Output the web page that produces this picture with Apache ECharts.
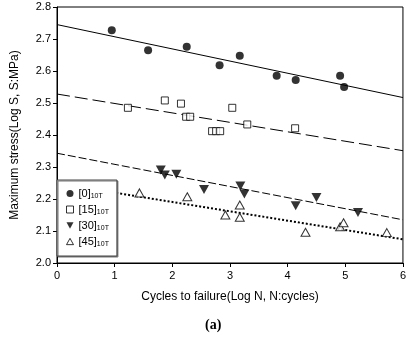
<!DOCTYPE html>
<html>
<head>
<meta charset="utf-8">
<script src="https://cdn.jsdelivr.net/npm/echarts@6/dist/echarts.min.js"></script>
<style>
  html, body { margin: 0; padding: 0; background: #fff; }
  #main { width: 409px; height: 339px; }
</style>
</head>
<body>
<div id="main"></div>
<script>
// measured points: [log N, log S]
const names = ['[0]', '[15]', '[30]', '[45]'];
const data0 = [[0.95, 2.727], [1.58, 2.665], [2.25, 2.676], [2.82, 2.618], [3.17, 2.648],
  [3.81, 2.585], [4.14, 2.572], [4.91, 2.585], [4.98, 2.55]];
const data15 = [[1.23, 2.485], [1.87, 2.508], [2.15, 2.498], [2.24, 2.457], [2.31, 2.457],
  [2.69, 2.412], [2.76, 2.412], [2.83, 2.412], [3.04, 2.485], [3.3, 2.433], [4.13, 2.421]];
const data30 = [[1.8, 2.291], [1.87, 2.275], [2.07, 2.277], [2.55, 2.23], [3.18, 2.241],
  [3.25, 2.216], [4.14, 2.179], [4.5, 2.205], [5.22, 2.158]];
const data45 = [[1.43, 2.219], [2.26, 2.207], [2.92, 2.15], [3.17, 2.181], [3.17, 2.143],
  [4.31, 2.096], [4.91, 2.113], [4.97, 2.126], [5.72, 2.095]];
// fitted lines, value at log N = 0 and log N = 6
const fitX = [0, 6];
const fit0 = [2.745, 2.517];
const fit15 = [2.528, 2.351];
const fit30 = [2.343, 2.135];
const fit45 = [2.249, 2.074];

const font = 'Liberation Sans, Arial, sans-serif';
const downTri = 'path://M0,0 L10,0 L5,9 Z';
const upTri = 'path://M5,0 L10,9 L0,9 Z';

const fitLine = (ys, type, width) => ({
  type: 'line',
  data: fitX.map((x, i) => [x, ys[i]]),
  showSymbol: false,
  symbol: 'none',
  silent: true,
  z: 1,
  lineStyle: { color: '#000', width: width, type: type }
});

const chart = echarts.init(document.getElementById('main'));
chart.setOption({
  animation: false,
  textStyle: { fontFamily: font },
  grid: { left: 57, top: 7, width: 353, height: 256, show: true, borderColor: '#000', borderWidth: 1 },
  xAxis: {
    type: 'value', min: 0, max: 6, interval: 1,
    name: 'Cycles to failure(Log N, N:cycles)',
    nameLocation: 'middle', nameGap: 28,
    nameTextStyle: { fontSize: 12, color: '#000', fontFamily: font },
    axisLine: { lineStyle: { color: '#000' } },
    axisTick: { length: 4, lineStyle: { color: '#000' } },
    axisLabel: { fontSize: 11, color: '#000', margin: 7, fontFamily: font },
    splitLine: { show: false }
  },
  yAxis: {
    type: 'value', min: 2.0, max: 2.8, interval: 0.1,
    name: 'Maximum stress(Log S, S:MPa)',
    nameLocation: 'middle', nameGap: 36,
    nameTextStyle: { fontSize: 12, color: '#000', fontFamily: font },
    axisLine: { show: true, lineStyle: { color: '#000' } },
    axisTick: { show: true, length: 4, lineStyle: { color: '#000' } },
    axisLabel: { fontSize: 11, color: '#000', margin: 6, fontFamily: font,
      formatter: v => v.toFixed(1) },
    splitLine: { show: false }
  },
  legend: {
    orient: 'vertical',
    left: 57, top: 180,
    padding: [8, 8, 8, 9],
    itemWidth: 7, itemHeight: 7, itemGap: 4,
    backgroundColor: '#fff',
    borderColor: '#444', borderWidth: 1,
    shadowColor: '#777', shadowOffsetX: 1, shadowOffsetY: 1, shadowBlur: 0,
    data: [
      { name: names[0], icon: 'circle', itemStyle: { color: '#000', borderWidth: 0 } },
      { name: names[1], icon: 'rect', itemStyle: { color: '#fff', borderColor: '#000', borderWidth: 1 } },
      { name: names[2], icon: downTri, itemStyle: { color: '#000', borderWidth: 0 } },
      { name: names[3], icon: upTri, itemStyle: { color: '#fff', borderColor: '#000', borderWidth: 1 } }
    ],
    formatter: n => '{a|' + n + '}{b|10T}',
    textStyle: {
      fontFamily: font, color: '#000',
      rich: {
        a: { fontSize: 11, fontFamily: font, color: '#000', lineHeight: 13 },
        b: { fontSize: 7, fontFamily: font, color: '#000', verticalAlign: 'bottom', lineHeight: 13, padding: [5, 0, 0, 0] }
      }
    }
  },
  series: [
    fitLine(fit0, 'solid', 1),
    fitLine(fit15, [13, 5], 1),
    fitLine(fit30, [8, 3], 1),
    fitLine(fit45, [2, 2], 2),
    { name: names[0], type: 'scatter', data: data0, symbol: 'circle', symbolSize: 8,
      itemStyle: { color: '#000' }, z: 3 },
    { name: names[1], type: 'scatter', data: data15, symbol: 'rect', symbolSize: 7,
      itemStyle: { color: '#fff', borderColor: '#000', borderWidth: 1 }, z: 3 },
    { name: names[2], type: 'scatter', data: data30, symbol: downTri, symbolSize: [10, 9],
      itemStyle: { color: '#000' }, z: 3 },
    { name: names[3], type: 'scatter', data: data45, symbol: upTri, symbolSize: [9, 8],
      itemStyle: { color: '#fff', borderColor: '#000', borderWidth: 1 }, z: 3 }
  ],
  graphic: [{
    type: 'text', left: 205, top: 318,
    style: { text: '(a)', font: 'bold 14px "Liberation Serif", "Times New Roman", serif', fill: '#000' }
  }]
});
</script>
</body>
</html>
